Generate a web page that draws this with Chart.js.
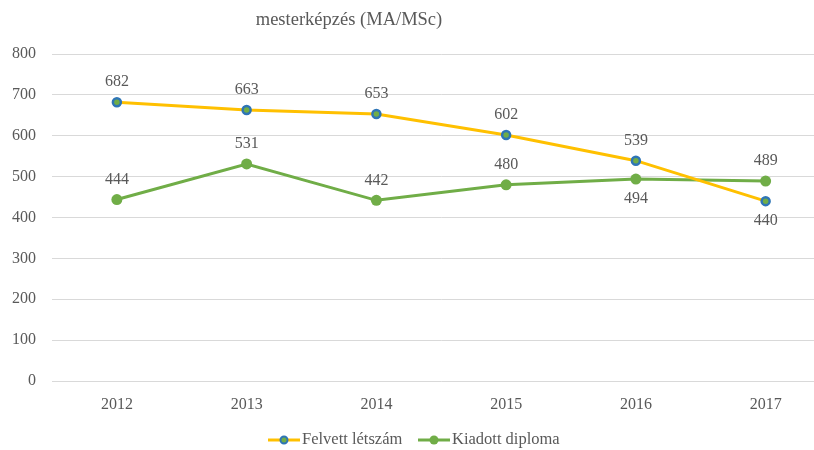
<!DOCTYPE html>
<html>
<head>
<meta charset="utf-8">
<script src="https://cdn.jsdelivr.net/npm/chart.js@4/dist/chart.umd.min.js"></script>
<style>
  html, body { margin: 0; padding: 0; background: #fff; overflow: hidden; }
  #wrap { width: 837px; height: 450px; }
</style>
</head>
<body>
<div id="wrap"><canvas id="c" width="837" height="450"></canvas></div>
<script>
const years = ['2012', '2013', '2014', '2015', '2016', '2017'];
const felvett = [682, 663, 653, 602, 539, 440];
const kiadott = [444, 531, 442, 480, 494, 489];
const yTicks = [0, 100, 200, 300, 400, 500, 600, 700, 800];
// label placement per point: 'above' or 'below'
const felvettPos = ['above', 'above', 'above', 'above', 'above', 'below'];
const kiadottPos = ['above', 'above', 'above', 'above', 'below', 'above'];

const FONT = '"Liberation Serif", "DejaVu Serif", serif';
const TEXT = '#595959';
const YELLOW = '#FFC000';
const BLUE = '#2E75B6';
const GREEN = '#70AD47';

const labelPlugin = {
  id: 'valueLabels',
  afterDatasetsDraw(chart) {
    const ctx = chart.ctx;
    ctx.save();
    ctx.font = '16px ' + FONT;
    ctx.fillStyle = TEXT;
    ctx.textAlign = 'center';
    ctx.textBaseline = 'middle';
    chart.data.datasets.forEach((ds, i) => {
      const meta = chart.getDatasetMeta(i);
      meta.data.forEach((pt, j) => {
        const dy = ds.labelPos[j] === 'below' ? 20 : -20;
        ctx.fillText(String(ds.data[j]), pt.x, pt.y + dy);
      });
    });
    ctx.restore();
  }
};

const chromePlugin = {
  id: 'chrome',
  afterDraw(chart) {
    const ctx = chart.ctx;
    ctx.save();
    // title
    ctx.font = '18.5px ' + FONT;
    ctx.fillStyle = TEXT;
    ctx.textAlign = 'center';
    ctx.textBaseline = 'middle';
    ctx.fillText('mesterképzés (MA/MSc)', 349, 20);
    // legend
    ctx.font = '16.5px ' + FONT;
    ctx.textAlign = 'left';
    const ly = 440;
    const items = [
      { x: 268, text: chart.data.datasets[0].label, line: YELLOW, fill: GREEN, border: BLUE, r: 3.5, bw: 2 },
      { x: 418, text: chart.data.datasets[1].label, line: GREEN, fill: GREEN, border: GREEN, r: 4.5, bw: 0 }
    ];
    items.forEach(it => {
      ctx.strokeStyle = it.line;
      ctx.lineWidth = 3;
      ctx.beginPath();
      ctx.moveTo(it.x, ly);
      ctx.lineTo(it.x + 32, ly);
      ctx.stroke();
      ctx.beginPath();
      ctx.arc(it.x + 16, ly, it.r, 0, Math.PI * 2);
      ctx.fillStyle = it.fill;
      ctx.fill();
      if (it.bw) {
        ctx.lineWidth = it.bw;
        ctx.strokeStyle = it.border;
        ctx.stroke();
      }
      ctx.fillStyle = TEXT;
      ctx.fillText(it.text, it.x + 34, ly);
    });
    ctx.restore();
  }
};

new Chart(document.getElementById('c'), {
  type: 'line',
  data: {
    labels: years,
    datasets: [
      {
        label: 'Felvett létszám',
        data: felvett,
        labelPos: felvettPos,
        borderColor: YELLOW,
        borderWidth: 3,
        pointRadius: 4,
        pointBorderWidth: 2.5,
        pointBackgroundColor: GREEN,
        pointBorderColor: BLUE,
        tension: 0
      },
      {
        label: 'Kiadott diploma',
        data: kiadott,
        labelPos: kiadottPos,
        borderColor: GREEN,
        borderWidth: 3,
        pointRadius: 5.5,
        pointBorderWidth: 0,
        pointBackgroundColor: GREEN,
        pointBorderColor: GREEN,
        tension: 0
      }
    ]
  },
  options: {
    responsive: false,
    animation: false,
    layout: { padding: { top: 54, left: 0, right: 0, bottom: 0 } },
    plugins: {
      legend: { display: false },
      title: { display: false },
      tooltip: { enabled: false }
    },
    scales: {
      x: {
        type: 'category',
        offset: true,
        grid: { display: false, drawTicks: false },
        border: { display: false },
        ticks: { color: TEXT, font: { family: FONT, size: 16 }, padding: 14, maxRotation: 0 },
        afterFit(scale) { scale.height = 69; }
      },
      y: {
        min: 0,
        max: 800,
        afterBuildTicks(scale) { scale.ticks = yTicks.map(v => ({ value: v })); },
        grid: { color: '#d9d9d9', lineWidth: 1, drawTicks: false },
        border: { display: false },
        ticks: { color: TEXT, font: { family: FONT, size: 16 }, padding: 16 },
        afterFit(scale) { scale.width = 52; }
      }
    }
  },
  plugins: [labelPlugin, chromePlugin]
});
</script>
</body>
</html>
